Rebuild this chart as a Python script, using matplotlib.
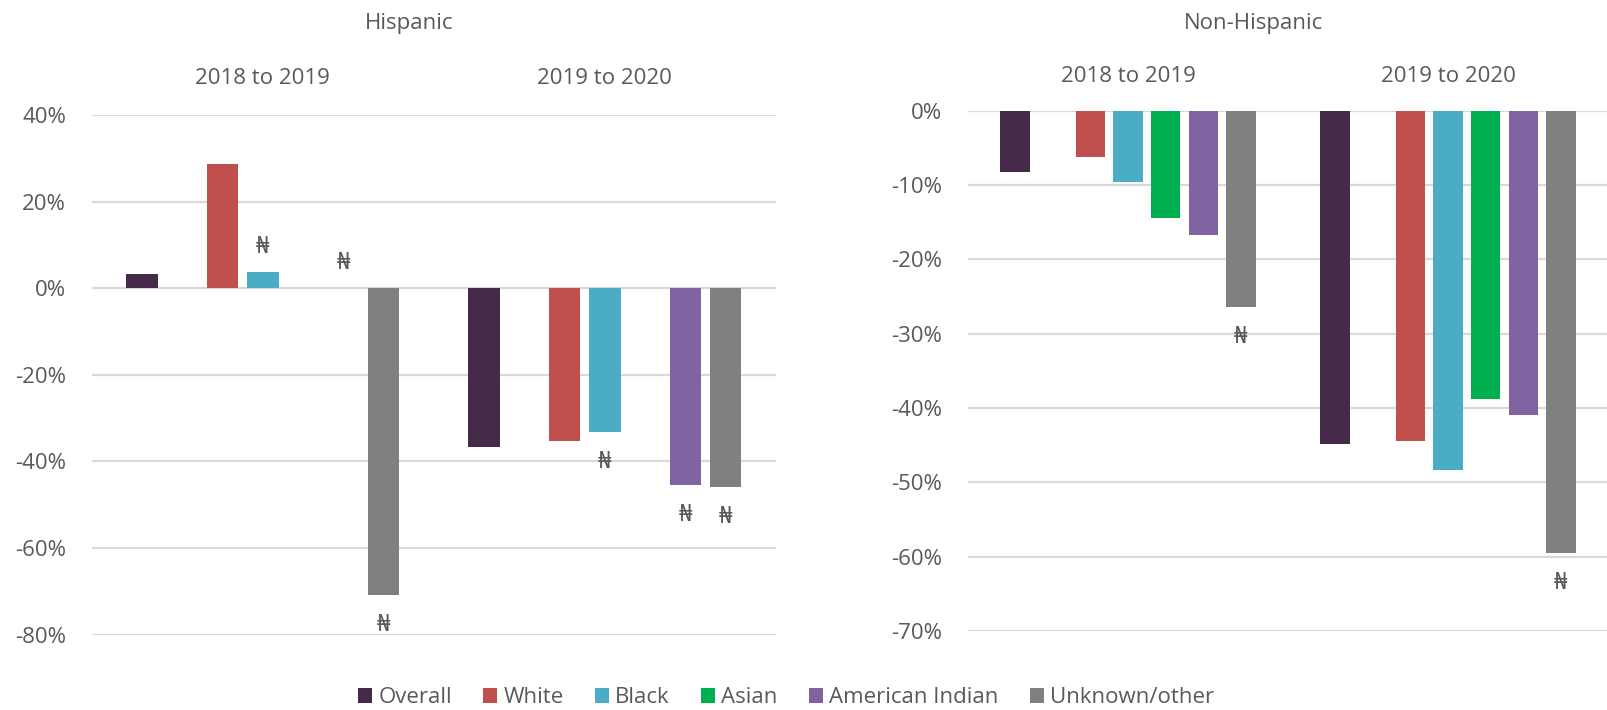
import numpy as np
import matplotlib
matplotlib.use("Agg")
import matplotlib.pyplot as plt
import matplotlib.transforms as mtransforms
from matplotlib.patches import Patch

plt.rcParams['font.family'] = ['Open Sans', 'DejaVu Sans']

# ---------------- data ----------------
categories = ["2018 to 2019", "2019 to 2020"]
series = ["Overall", "White", "Black", "Asian", "American Indian", "Unknown/other"]
colors = ["#452A49", "#C0504D", "#4BACC6", "#00B050", "#8064A2", "#808080"]

# Hispanic (percent change)
hisp_overall = [3.3, -36.6]
hisp_white = [28.7, -35.4]
hisp_black = [3.7, -33.3]
hisp_asian = [np.nan, np.nan]
hisp_amind = [0.0, -45.5]
hisp_unknown = [-70.9, -46.0]

# Non-Hispanic (percent change)
nonhisp_overall = [-8.2, -44.8]
nonhisp_white = [-6.2, -44.5]
nonhisp_black = [-9.6, -48.4]
nonhisp_asian = [-14.4, -38.8]
nonhisp_amind = [-16.7, -41.0]
nonhisp_unknown = [-26.4, -59.5]

# bars flagged with the "₦" label
hisp_flag_overall = [False, False]
hisp_flag_white = [False, False]
hisp_flag_black = [True, True]
hisp_flag_asian = [False, False]
hisp_flag_amind = [True, True]
hisp_flag_unknown = [True, True]

nonhisp_flag_overall = [False, False]
nonhisp_flag_white = [False, False]
nonhisp_flag_black = [False, False]
nonhisp_flag_asian = [False, False]
nonhisp_flag_amind = [False, False]
nonhisp_flag_unknown = [True, True]

hisp_ticks = [40, 20, 0, -20, -40, -60, -80]
nonhisp_ticks = [0, -10, -20, -30, -40, -50, -60, -70]

panels = [
    dict(title="Hispanic",
         values=[hisp_overall, hisp_white, hisp_black, hisp_asian, hisp_amind, hisp_unknown],
         flags=[hisp_flag_overall, hisp_flag_white, hisp_flag_black, hisp_flag_asian,
                hisp_flag_amind, hisp_flag_unknown],
         ticks=hisp_ticks),
    dict(title="Non-Hispanic",
         values=[nonhisp_overall, nonhisp_white, nonhisp_black, nonhisp_asian,
                 nonhisp_amind, nonhisp_unknown],
         flags=[nonhisp_flag_overall, nonhisp_flag_white, nonhisp_flag_black,
                nonhisp_flag_asian, nonhisp_flag_amind, nonhisp_flag_unknown],
         ticks=nonhisp_ticks),
]

# ---------------- layout ----------------
W, H = 1608, 710
fig = plt.figure(figsize=(W / 100, H / 100), dpi=100)

def fx(px):
    return px / W

def fy(py):
    return 1 - py / H

axes_px = [
    (91.7, 115.0, 776.0, 634.6),
    (968.0, 110.7, 1608.0, 631.0),
]
title_px = [(409, 24), (1254, 23)]
group_y_px = [78, 76]

TEXT = "#595959"
GRID = "#D9D9D9"
FS = 16

slot = 1 / 8.5
slots = [0, 2, 3, 4, 5, 6]  # slot 1 is an empty spacer
bar_w = 0.092
x = np.arange(len(categories))

for p, (l, t, r, b), (tx, ty), gy in zip(panels, axes_px, title_px, group_y_px):
    ax = fig.add_axes([fx(l), fy(b), fx(r) - fx(l), fy(t) - fy(b)])
    ticks = p["ticks"]
    ax.set_ylim(min(ticks), max(ticks))
    ax.set_xlim(-0.5, len(categories) - 0.5)
    ax.set_yticks(ticks)
    ax.set_yticklabels([f"{v}%" for v in ticks])
    ax.tick_params(axis='y', length=0, pad=18.5, labelsize=FS, labelcolor=TEXT)
    ax.tick_params(axis='x', length=0, labelbottom=False)
    ax.set_xticks([])
    for s in ax.spines.values():
        s.set_visible(False)
    for v in ticks:
        ax.axhline(v, color=GRID, lw=1.6, zorder=0)

    for i, (vals, flags, c) in enumerate(zip(p["values"], p["flags"], colors)):
        xs = x + (slots[i] - 3) * slot
        ax.bar(xs, vals, width=bar_w, color=c, zorder=2, linewidth=0)
        for xi, v, f in zip(xs, vals, flags):
            if f and not np.isnan(v):
                off = 18 if v >= 0 else -21.5
                ax.annotate("\u20A6", (xi, v), xytext=(0, off), textcoords="offset points",
                            ha="center", va="center", fontsize=FS + 1, color=TEXT,
                            family=['Noto Sans', 'DejaVu Sans'])

    trans = mtransforms.blended_transform_factory(ax.transData, fig.transFigure)
    for xi, cat in zip(x, categories):
        ax.text(xi, fy(gy), cat, transform=trans, ha="center", va="center",
                fontsize=FS, color=TEXT)
    fig.text(fx(tx), fy(ty), p["title"], ha="center", va="center", fontsize=FS, color=TEXT)

handles = [Patch(facecolor=c, edgecolor='none') for c in colors]
fig.legend(handles, series, loc="center", bbox_to_anchor=(fx(786), fy(697.5)),
           ncol=len(series), frameon=False, fontsize=FS, labelcolor=TEXT,
           handlelength=0.65, handleheight=0.68, handletextpad=0.27,
           columnspacing=1.4, borderpad=0, borderaxespad=0)

fig.savefig("out.png", dpi=100)
